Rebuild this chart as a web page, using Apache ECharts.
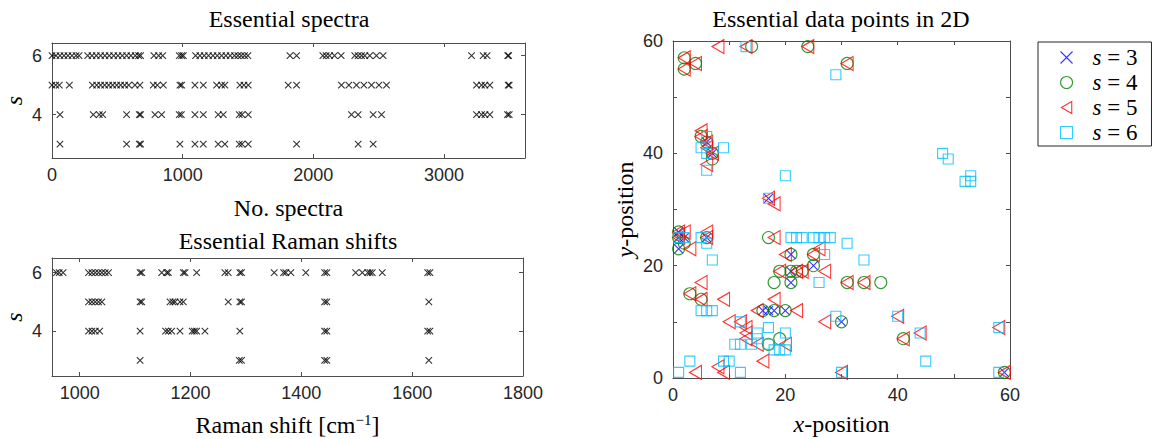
<!DOCTYPE html>
<html><head><meta charset="utf-8">
<script src="https://cdn.jsdelivr.net/npm/echarts@6/dist/echarts.min.js"></script>
<style>html,body{margin:0;padding:0;background:#fff}#c{width:1152px;height:439px}</style>
</head><body><div id="c"></div>
<script>
// ---------- data: Essential spectra (spectrum index per s row) ----------
const spectraS6 = [0,31,61,92,122,153,184,207,273,306,339,372,405,438,472,505,538,571,604,637,663,678,780,816,847,974,992,1005,1099,1132,1165,1198,1232,1265,1298,1331,1364,1397,1423,1448,1474,1499,1821,1872,2073,2098,2124,2162,2213,2317,2343,2369,2394,2432,2483,2534,3211,3300,3330,3488,3495];
const spectraS5 = [0,28,56,133,309,342,372,403,434,464,495,525,556,587,635,673,775,806,852,979,992,1094,1158,1260,1298,1323,1438,1469,1502,1808,1872,2215,2272,2330,2387,2445,2502,2560,3249,3287,3313,3351,3491,3499];
const spectraS4 = [61,316,362,388,571,668,678,788,839,974,990,1094,1158,1272,1311,1433,1454,1502,2292,2343,2458,2522,3249,3287,3313,3351,3486,3499];
const spectraS3 = [61,571,668,678,979,1094,1158,1272,1323,1433,1454,1502,1872,2343,2458];

// ---------- data: Essential Raman shifts (cm^-1 per s row) ----------
const ramanS6 = [958,963,970,1016,1022,1028,1034,1040,1046,1052,1109,1112,1148,1157,1160,1187,1190,1211,1262,1268,1289,1292,1351,1368,1372,1381,1408,1442,1446,1498,1510,1520,1524,1528,1546,1628,1632];
const ramanS5 = [1016,1022,1028,1034,1040,1109,1112,1163,1168,1172,1181,1187,1268,1289,1292,1442,1446,1630];
const ramanS4 = [1016,1022,1028,1036,1109,1155,1160,1166,1181,1203,1207,1211,1226,1289,1442,1446,1628,1632];
const ramanS3 = [1109,1288,1292,1442,1446,1630];

// ---------- data: Essential data points in 2D ([x, y]) ----------
const pointsS3 = [[1,26],[1,25],[2,25],[1,23],[6,25],[6,42],[7,40],[17,32],[21,22],[25,20],[21,19],[21,17],[16,12],[17,12],[18,12],[20,12],[30,10],[59,1]];
const pointsS4 = [[2,57],[4,56],[2,55],[14,59],[24,59],[31,56],[5,43],[6,42],[7,40],[7,39],[1,26],[1,25],[1,23],[2,24],[6,25],[3,15],[5,14],[17,25],[21,22],[25,22],[25,20],[19,19],[21,19],[22,19],[23,19],[18,17],[21,17],[31,17],[34,17],[37,17],[16,12],[18,12],[20,12],[17,6],[19,7],[30,10],[41,7],[59,1]];
const pointsS5 = [[8,59],[13,59],[24,59],[2,57],[4,56],[2,55],[31,56],[5,44],[5,43],[6,42],[6,41],[7,40],[6,38],[17,32],[18,31],[1,26],[2,26],[3,23],[1,25],[6,26],[6,25],[18,25],[26,23],[20,22],[25,22],[27,19],[19,19],[22,19],[23,19],[31,17],[34,17],[5,17],[3,15],[5,14],[9,14],[18,14],[15,12],[22,12],[10,10],[12,10],[13,9],[13,8],[13,7],[15,6],[16,3],[20,6],[27,10],[40,11],[44,8],[41,7],[58,9],[4,1],[8,2],[9,1],[30,1],[59,1]];
const pointsS6 = [[13,59],[29,54],[48,40],[49,39],[52,35],[53,36],[53,35],[9,41],[5,41],[6,43],[6,37],[6,40],[20,36],[17,32],[1,25],[2,25],[5,25],[6,24],[7,21],[5,12],[6,12],[7,12],[21,25],[22,25],[23,25],[25,25],[26,25],[27,25],[28,25],[27,22],[31,24],[34,21],[26,17],[29,11],[17,9],[12,10],[15,8],[15,7],[11,6],[12,6],[14,6],[20,8],[18,5],[19,5],[20,5],[17,6],[3,3],[1,1],[9,3],[10,3],[12,1],[40,11],[44,8],[45,3],[58,9],[58,1],[30,1]];

const legendNames = ['s = 3','s = 4','s = 5','s = 6'];
const spectraTicks = [0,1000,2000,3000];
const ramanTicks = [1000,1200,1400,1600,1800];
const sTicks = [4,6];

// ---------- styling ----------
const AX = '#4d4d4d';
const SANS = 'Liberation Sans';
const SERIF = 'Liberation Serif';
const XPATH = 'path://M0,0L10,10M0,10L10,0';
const TRI = 'path://M10,0L0,5.77L10,11.55Z';
const SQ = 'path://M0,0L10,0L10,10L0,10Z';
const plain = v => String(v);

function boxAxis(extra) {
  return Object.assign({
    type: 'value',
    axisLine: {show: true, onZero: false, lineStyle: {color: AX, width: 1}},
    axisTick: {show: true, inside: true, length: 4, lineStyle: {color: AX}},
    axisLabel: {color: '#262626', fontFamily: SANS, fontSize: 18},
    splitLine: {show: false}
  }, extra);
}
function hiddenLabel() { return {show: false}; }
function ticks(vals) { return {show: true, inside: true, length: 4, lineStyle: {color: AX}, customValues: vals}; }
function labels(vals, margin) { return {color: '#262626', fontFamily: SANS, fontSize: 18, margin: margin, customValues: vals, formatter: plain}; }

const nameStyle = {color: '#000', fontFamily: SERIF, fontSize: 24,
  rich: {
    i: {fontStyle: 'italic', fontFamily: SERIF, fontSize: 24, color: '#000'},
    n: {fontFamily: SERIF, fontSize: 24, color: '#000'},
    sup: {fontFamily: SERIF, fontSize: 15, color: '#000', verticalAlign: 'bottom', padding: [0, 0, 11, 0]}
  }};

const rowPts = (vals, s) => vals.map(v => [v, s]);

const grids = [
  {left: 52, top: 43, width: 473, height: 115, containLabel: false, outerBoundsMode: 'none'},
  {left: 52, top: 258, width: 471, height: 118, containLabel: false, outerBoundsMode: 'none'},
  {left: 673, top: 41, width: 337, height: 337, containLabel: false, outerBoundsMode: 'none'}
];

const xAxes = [
  boxAxis({gridIndex: 0, position: 'bottom', min: 0, max: 3620,
    axisTick: ticks(spectraTicks), axisLabel: labels(spectraTicks, 8),
    name: 'No. spectra', nameLocation: 'middle', nameGap: 38, nameTextStyle: nameStyle}),
  boxAxis({gridIndex: 0, position: 'top', min: 0, max: 3620,
    axisTick: ticks(spectraTicks), axisLabel: hiddenLabel()}),
  boxAxis({gridIndex: 1, position: 'bottom', min: 950, max: 1800,
    axisTick: ticks(ramanTicks), axisLabel: labels(ramanTicks, 8),
    name: '{n|Raman shift [cm}{sup|−1}{n|]}', nameLocation: 'middle', nameGap: 36, nameTextStyle: nameStyle}),
  boxAxis({gridIndex: 1, position: 'top', min: 950, max: 1800,
    axisTick: ticks(ramanTicks), axisLabel: hiddenLabel()}),
  boxAxis({gridIndex: 2, position: 'bottom', min: 0, max: 60, interval: 10,
    axisLabel: {color: '#262626', fontFamily: SANS, fontSize: 18, margin: 8,
      formatter: v => (v % 20 === 0 ? String(v) : '')},
    name: '{i|x}{n|-position}', nameLocation: 'middle', nameGap: 34, nameTextStyle: nameStyle}),
  boxAxis({gridIndex: 2, position: 'top', min: 0, max: 60, interval: 10, axisLabel: hiddenLabel()})
];

const yAxes = [
  boxAxis({gridIndex: 0, position: 'left', min: 2.53, max: 6.43,
    axisTick: ticks(sTicks), axisLabel: labels(sTicks, 10),
    name: '{i|s}', nameLocation: 'middle', nameGap: 26, nameTextStyle: nameStyle}),
  boxAxis({gridIndex: 0, position: 'right', min: 2.53, max: 6.43,
    axisTick: ticks(sTicks), axisLabel: hiddenLabel()}),
  boxAxis({gridIndex: 1, position: 'left', min: 2.47, max: 6.5,
    axisTick: ticks(sTicks), axisLabel: labels(sTicks, 10),
    name: '{i|s}', nameLocation: 'middle', nameGap: 26, nameTextStyle: nameStyle}),
  boxAxis({gridIndex: 1, position: 'right', min: 2.47, max: 6.5,
    axisTick: ticks(sTicks), axisLabel: hiddenLabel()}),
  boxAxis({gridIndex: 2, position: 'left', min: 0, max: 60, interval: 10,
    axisLabel: {color: '#262626', fontFamily: SANS, fontSize: 18, margin: 10,
      formatter: v => (v % 20 === 0 ? String(v) : '')},
    name: '{i|y}{n|-position}', nameLocation: 'middle', nameGap: 36, nameTextStyle: nameStyle}),
  boxAxis({gridIndex: 2, position: 'right', min: 0, max: 60, interval: 10, axisLabel: hiddenLabel()})
];

function crossSeries(data, xi, yi) {
  return {type: 'scatter', xAxisIndex: xi, yAxisIndex: yi, data: data, silent: true,
    symbol: XPATH, symbolSize: 6.5,
    itemStyle: {color: '#000', borderColor: '#000', borderWidth: 1.1}};
}

const markerStyles = [
  {symbol: XPATH, symbolSize: 9, border: '#0000ff', fill: '#0000ff'},
  {symbol: 'circle', symbolSize: 12, border: '#008000', fill: 'rgba(0,0,0,0)'},
  {symbol: TRI, symbolSize: [12, 14], border: '#ff0000', fill: 'rgba(0,0,0,0)'},
  {symbol: SQ, symbolSize: 10, border: '#00bfff', fill: 'rgba(0,0,0,0)'}
];
const pointSets = [pointsS3, pointsS4, pointsS5, pointsS6];

const series = [
  crossSeries(rowPts(spectraS6, 6), 0, 0),
  crossSeries(rowPts(spectraS5, 5), 0, 0),
  crossSeries(rowPts(spectraS4, 4), 0, 0),
  crossSeries(rowPts(spectraS3, 3), 0, 0),
  crossSeries(rowPts(ramanS6, 6), 2, 2),
  crossSeries(rowPts(ramanS5, 5), 2, 2),
  crossSeries(rowPts(ramanS4, 4), 2, 2),
  crossSeries(rowPts(ramanS3, 3), 2, 2)
];
pointSets.forEach((pts, k) => {
  const m = markerStyles[k];
  series.push({type: 'scatter', name: legendNames[k], xAxisIndex: 4, yAxisIndex: 4,
    data: pts, silent: true, symbol: m.symbol, symbolSize: m.symbolSize,
    itemStyle: {color: m.fill, borderColor: m.border, borderWidth: 1.1}});
});

const titleStyle = {color: '#000', fontFamily: SERIF, fontSize: 24, fontWeight: 'normal'};

const chart = echarts.init(document.getElementById('c'), null, {renderer: 'svg'});
chart.setOption({
  animation: false,
  backgroundColor: '#fff',
  title: [
    {text: 'Essential spectra', left: 289, top: 7, textAlign: 'center', padding: 0, textStyle: titleStyle},
    {text: 'Essential Raman shifts', left: 288, top: 229, textAlign: 'center', padding: 0, textStyle: titleStyle},
    {text: 'Essential data points in 2D', left: 841, top: 7, textAlign: 'center', padding: 0, textStyle: titleStyle}
  ],
  legend: {
    orient: 'vertical', left: 1038, top: 42,
    padding: [3, 14, 1, 22], itemGap: 0, itemWidth: 12, itemHeight: 12,
    borderColor: '#262626', borderWidth: 1, selectedMode: false,
    data: legendNames.map((n, k) => ({name: n, icon: markerStyles[k].symbol,
      itemStyle: {color: markerStyles[k].fill, borderColor: markerStyles[k].border, borderWidth: 1.1}})),
    formatter: n => '{g|}{i|s}{n| = ' + n.split('= ')[1] + '}',
    textStyle: {fontFamily: SERIF, fontSize: 23, color: '#000', lineHeight: 25,
      rich: {g: {width: 15}, i: {fontStyle: 'italic', fontFamily: SERIF, fontSize: 23, color: '#000'},
        n: {fontFamily: SERIF, fontSize: 23, color: '#000'}}}
  },
  grid: grids,
  xAxis: xAxes,
  yAxis: yAxes,
  series: series
});
</script></body></html>
